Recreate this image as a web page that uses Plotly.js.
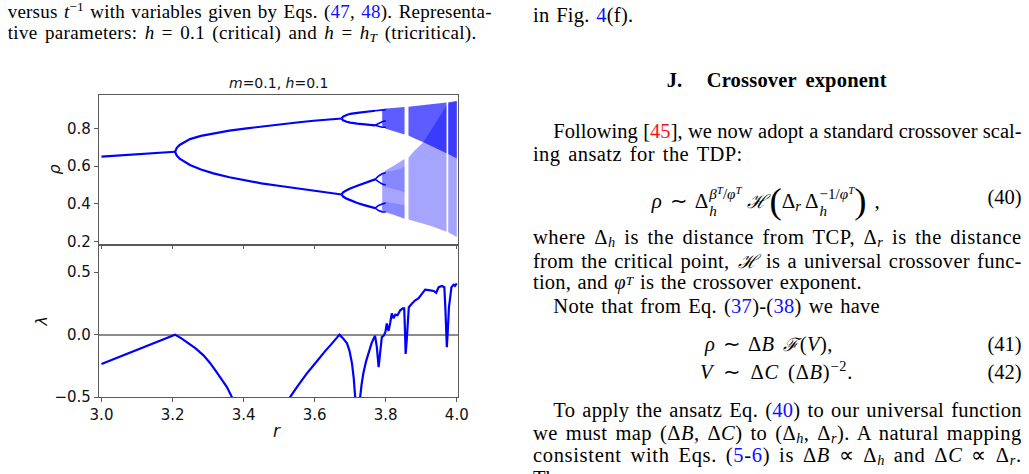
<!DOCTYPE html>
<html>
<head>
<meta charset="utf-8">
<script src="https://cdn.plot.ly/plotly-3.0.1.min.js"></script>
<style>
  html, body { margin:0; padding:0; background:#fff; }
  body { width:1029px; height:474px; position:relative; overflow:hidden; }
  #plot { position:absolute; left:0; top:0; width:1029px; height:474px; }
  .ln { position:absolute; white-space:nowrap; font-family:'Liberation Serif', serif; color:#000; z-index:5; }
  .body { font-size:20.5px; line-height:22px; }
  .cap { font-size:19px; line-height:20px; }
  .lk { color:#1010ff; }
  .ct { color:#ff1010; }
  sup, sub { font-size:0.7em; line-height:0; }
  sub { vertical-align:-0.2em; }
  .lowsup { font-size:0.65em; vertical-align:0.32em; }
  .ss { display:inline-flex; flex-direction:column; vertical-align:0.58em; font-size:0.72em; line-height:1.14; margin-left:1px; }
  .ss > sup, .ss > sub { font-size:1em; line-height:1.14; vertical-align:baseline; }
  .ss sup sup { font-size:0.72em; vertical-align:0.45em; }
  .big { font-size:1.75em; vertical-align:-0.14em; line-height:0; }
  .scr { font-family:'DejaVu Serif', serif; font-style:italic; line-height:0; font-size:0.9em; margin:0 1px; }
</style>
</head>
<body>
<div id="plot"></div>

<!-- left column caption -->
<div class="ln cap" data-x="7.7" data-w="484" data-cy="13"><span>versus <i>t</i><sup>−1</sup> with variables given by Eqs. (<span class="lk">47</span>, <span class="lk">48</span>). Representa-</span></div>
<div class="ln cap" data-x="7.7" data-w="469" data-cy="34"><span>tive parameters: <i>h</i> = 0.1 (critical) and <i>h</i> = <i>h</i><sub><i>T</i></sub> (tricritical).</span></div>

<!-- right column -->
<div class="ln body" data-x="533" data-w="100.3" data-cy="16"><span>in Fig. <span class="lk">4</span>(f).</span></div>
<div class="ln body" data-x="666.7" data-cy="81" data-nofit="1"><span style="font-weight:bold">J.</span></div>
<div class="ln body" data-x="706.7" data-w="180" data-cy="81"><span style="font-weight:bold">Crossover exponent</span></div>
<div class="ln body" data-x="553.3" data-w="468.4" data-cy="132"><span>Following [<span class="ct">45</span>], we now adopt a standard crossover scal-</span></div>
<div class="ln body" data-x="533" data-w="209.7" data-cy="155"><span>ing ansatz for the TDP:</span></div>

<div class="ln body" data-x="651.7" data-cy="198" data-nofit="1" style="font-size:21px"><span><i>ρ</i><span style="margin:0 7px 0 8px">∼</span>Δ<span class="ss"><sup><i>β</i><sup><i>T</i></sup>/<i>φ</i><sup><i>T</i></sup></sup><sub><i>h</i></sub></span><span class="scr" style="margin-left:5px">ℋ</span><span class="big" style="margin-left:2px">(</span>Δ<sub><i>r</i></sub><span style="margin-left:4px">Δ</span><span class="ss"><sup>−1/<i>φ</i><sup><i>T</i></sup></sup><sub><i>h</i></sub></span><span class="big">)</span><span style="margin-left:8px">,</span></span></div>
<div class="ln body" data-right="1021.7" data-cy="198"><span>(40)</span></div>

<div class="ln body" data-x="533" data-w="488.7" data-cy="238"><span>where Δ<sub><i>h</i></sub> is the distance from TCP, Δ<sub><i>r</i></sub> is the distance</span></div>
<div class="ln body" data-x="533" data-w="488.7" data-cy="261.7"><span>from the critical point, <span class="scr">ℋ</span> is a universal crossover func-</span></div>
<div class="ln body" data-x="533" data-w="328.7" data-cy="283.5"><span>tion, and <i>φ</i><sup class="lowsup"><i>T</i></sup> is the crossover exponent.</span></div>
<div class="ln body" data-x="553.3" data-w="326.7" data-cy="307"><span>Note that from Eq. (<span class="lk">37</span>)-(<span class="lk">38</span>) we have</span></div>

<div class="ln body" data-x="705" data-w="128" data-cy="345"><span><i>ρ</i> ∼ Δ<i>B</i> <span class="scr">ℱ</span>(<i>V</i>),</span></div>
<div class="ln body" data-right="1021.7" data-cy="345"><span>(41)</span></div>
<div class="ln body" data-x="700" data-w="153" data-cy="372.7"><span><i>V</i> ∼ Δ<i>C</i> (Δ<i>B</i>)<sup>−2</sup>.</span></div>
<div class="ln body" data-right="1021.7" data-cy="372.7"><span>(42)</span></div>

<div class="ln body" data-x="553.3" data-w="468.4" data-cy="411"><span>To apply the ansatz Eq. (<span class="lk">40</span>) to our universal function</span></div>
<div class="ln body" data-x="533" data-w="488.7" data-cy="434"><span>we must map (Δ<i>B</i>, Δ<i>C</i>) to (Δ<sub><i>h</i></sub>, Δ<sub><i>r</i></sub>). A natural mapping</span></div>
<div class="ln body" data-x="533" data-w="488.7" data-cy="456"><span>consistent with Eqs. (<span class="lk">5</span>-<span class="lk">6</span>) is Δ<i>B</i> ∝ Δ<sub><i>h</i></sub> and Δ<i>C</i> ∝ Δ<sub><i>r</i></sub>.</span></div>
<div class="ln body" data-x="533" data-cy="479" data-nofit="1"><span>The</span></div>

<script>
// ---------------- data ----------------
// period-1 branch
const rP1   = [3.000, 3.050, 3.100, 3.150, 3.207];
const rhoP1 = [0.650, 0.656, 0.662, 0.668, 0.676];
// period-2 branches
const rP2     = [3.207, 3.212, 3.220, 3.235, 3.249, 3.280, 3.315, 3.360, 3.409, 3.450, 3.503, 3.550, 3.597, 3.640, 3.676];
const rhoP2up = [0.676, 0.697, 0.712, 0.728, 0.743, 0.760, 0.774, 0.788, 0.800, 0.810, 0.821, 0.831, 0.840, 0.847, 0.852];
const rhoP2lo = [0.676, 0.655, 0.640, 0.622, 0.606, 0.582, 0.562, 0.541, 0.523, 0.509, 0.495, 0.482, 0.470, 0.460, 0.450];
// period-4 branches
const rP4     = [3.676, 3.680, 3.690, 3.700, 3.720, 3.737, 3.755, 3.770];
const rhoP4uu = [0.852, 0.862, 0.871, 0.877, 0.882, 0.886, 0.890, 0.893];
const rhoP4ul = [0.852, 0.842, 0.835, 0.830, 0.825, 0.821, 0.818, 0.816];
const rhoP4lu = [0.450, 0.461, 0.472, 0.482, 0.496, 0.508, 0.520, 0.530];
const rhoP4ll = [0.450, 0.439, 0.428, 0.419, 0.405, 0.395, 0.386, 0.378];
// period-8 branches (just before chaos)
const rP8     = [3.770, 3.780, 3.790, 3.800];
const rhoP8a  = [0.893, 0.895, 0.897, 0.899];
const rhoP8b  = [0.816, 0.826, 0.835, 0.840];
const rhoP8c  = [0.816, 0.810, 0.806, 0.806];
const rhoP8d  = [0.530, 0.548, 0.560, 0.565];
const rhoP8e  = [0.530, 0.515, 0.505, 0.500];
const rhoP8f  = [0.378, 0.392, 0.400, 0.405];
const rhoP8g  = [0.378, 0.365, 0.358, 0.357];
// chaotic bands (null = periodic window)
const rChaos   = [3.790, 3.800, 3.820, 3.840, 3.853, null, 3.864, 3.880, 3.906, 3.930, 3.950, 3.971, null, 3.976, 4.000];
const upperTop = [0.898, 0.905, 0.908, 0.911, 0.913, null, 0.914, 0.918, 0.923, 0.928, 0.932, 0.937, null, 0.938, 0.945];
const upperBot = [0.812, 0.798, 0.785, 0.775, 0.768, null, 0.762, 0.748, 0.727, 0.705, 0.688, 0.668, null, 0.664, 0.640];
const lowerTop = [0.560, 0.578, 0.600, 0.622, 0.638, null, 0.645, 0.680, 0.727, 0.800, 0.860, 0.920, null, 0.930, 0.945];
const lowerBot = [0.365, 0.357, 0.345, 0.332, 0.322, null, 0.318, 0.308, 0.295, 0.282, 0.268, 0.253, null, 0.250, 0.225];
// denser cores of the lower band just after the onset of chaos
const rCore    = [3.790, 3.800, 3.820, 3.840, 3.853];
const coreTop  = [0.565, 0.570, 0.575, 0.585, 0.600];
const coreBot  = [0.495, 0.490, 0.480, 0.470, 0.460];
const core2Top = [0.410, 0.410, 0.405, 0.400, 0.395];
const core2Bot = [0.360, 0.352, 0.342, 0.330, 0.322];

// Lyapunov exponent
const rLam = [3.000,3.040,3.080,3.120,3.146,3.180,3.207,3.225,3.240,3.265,3.287,3.305,3.324,3.340,3.353,3.367,3.380,3.449,3.520,3.531,3.550,3.565,3.578,3.597,3.615,3.630,3.644,3.656,3.665,3.670,3.680,3.691,3.698,3.705,3.710,3.714,3.721,3.728,3.732,3.737,3.745,3.752,3.760,3.766,3.770,3.775,3.778,3.780,3.783,3.785,3.789,3.794,3.799,3.803,3.806,3.808,3.813,3.817,3.822,3.827,3.833,3.841,3.848,3.852,3.854,3.856,3.859,3.861,3.865,3.874,3.883,3.892,3.902,3.911,3.921,3.935,3.942,3.949,3.958,3.965,3.968,3.970,3.972,3.975,3.978,3.985,3.991,3.995,4.000];
const lam  = [-0.235,-0.190,-0.145,-0.100,-0.067,-0.032,0.000,-0.030,-0.060,-0.110,-0.166,-0.225,-0.300,-0.365,-0.420,-0.500,-0.600,-1.200,-0.600,-0.500,-0.420,-0.360,-0.310,-0.245,-0.180,-0.130,-0.086,-0.050,-0.020,0.000,-0.030,-0.070,-0.130,-0.230,-0.350,-0.500,-1.500,-0.500,-0.400,-0.310,-0.210,-0.140,-0.070,-0.030,-0.010,-0.100,-0.200,-0.260,-0.180,-0.130,-0.020,-0.010,0.020,0.090,0.050,0.030,0.100,0.170,0.130,0.160,0.155,0.195,0.210,0.210,0.050,-0.155,-0.050,0.060,0.220,0.250,0.275,0.290,0.330,0.360,0.356,0.350,0.335,0.380,0.390,0.380,0.200,0.000,-0.100,0.050,0.220,0.380,0.400,0.390,0.410];

const xTicks = [3.0, 3.2, 3.4, 3.6, 3.8, 4.0];
const xTickText = ['3.0','3.2','3.4','3.6','3.8','4.0'];
const rhoTicks = [0.2, 0.4, 0.6, 0.8];
const rhoTickText = ['0.2','0.4','0.6','0.8'];
const lamTicks = [-0.5, 0.0, 0.5];
const lamTickText = ['−0.5','0.0','0.5'];

// ---------------- build figure ----------------
const BLUE = '#0000ff';
const W = 1029, H = 474;
function band(rs, top, bot) {
  const xs = [], ys = [];
  let seg = [];
  const flush = () => {
    if (!seg.length) return;
    seg.forEach(i => { xs.push(rs[i]); ys.push(top[i]); });
    seg.slice().reverse().forEach(i => { xs.push(rs[i]); ys.push(bot[i]); });
    xs.push(null); ys.push(null);
    seg = [];
  };
  rs.forEach((r, i) => { if (r === null) flush(); else seg.push(i); });
  flush();
  return {xs, ys};
}
function fillTrace(b, color) {
  return {x:b.xs, y:b.ys, type:'scatter', mode:'lines', fill:'toself', fillcolor:color,
          line:{width:0, color:'rgba(0,0,0,0)'}, xaxis:'x', yaxis:'y', hoverinfo:'skip', showlegend:false};
}
function ln(x, y, w) {
  return {x, y, type:'scatter', mode:'lines', xaxis:'x', yaxis:'y',
          line:{color:BLUE, width:w || 2.2}, hoverinfo:'skip', showlegend:false};
}
const traces = [
  fillTrace(band(rChaos, lowerTop, lowerBot), 'rgba(40,40,255,0.42)'),
  fillTrace(band(rCore, coreTop, coreBot), 'rgba(0,0,255,0.18)'),
  fillTrace(band(rCore, core2Top, core2Bot), 'rgba(0,0,255,0.18)'),
  fillTrace(band(rChaos, upperTop, upperBot), 'rgba(0,0,255,0.64)'),
  ln(rP1, rhoP1), ln(rP2, rhoP2up), ln(rP2, rhoP2lo),
  ln(rP4, rhoP4uu), ln(rP4, rhoP4ul), ln(rP4, rhoP4lu), ln(rP4, rhoP4ll),
  ln(rP8, rhoP8a, 1.6), ln(rP8, rhoP8b, 1.6), ln(rP8, rhoP8c, 1.6), ln(rP8, rhoP8d, 1.6),
  ln(rP8, rhoP8e, 1.6), ln(rP8, rhoP8f, 1.6), ln(rP8, rhoP8g, 1.6),
  {x:rLam, y:lam, type:'scatter', mode:'lines', xaxis:'x2', yaxis:'y2',
   line:{color:BLUE, width:2.2}, hoverinfo:'skip', showlegend:false}
];

const xDom = [99/W, 457.5/W];
const axisCommon = {
  showgrid:false, zeroline:false, showline:true, mirror:true, linecolor:'#5a5a5a', linewidth:1.1,
  ticks:'outside', ticklen:4, tickwidth:1, tickcolor:'#5a5a5a',
  tickfont:{family:'DejaVu Sans', size:15, color:'#111'}
};
const layout = {
  width:W, height:H, margin:{l:0, r:0, t:0, b:0},
  paper_bgcolor:'#fff', plot_bgcolor:'#fff',
  showlegend:false,
  xaxis: Object.assign({}, axisCommon, {domain:xDom, range:[2.993, 4.002], anchor:'y',
          tickvals:xTicks, ticktext:xTickText, showticklabels:false, matches:'x2'}),
  yaxis: Object.assign({}, axisCommon, {domain:[1-244/H, 1-94.7/H], range:[0.188, 0.978], anchor:'x',
          tickvals:rhoTicks, ticktext:rhoTickText}),
  xaxis2: Object.assign({}, axisCommon, {domain:xDom, range:[2.993, 4.002], anchor:'y2',
          tickvals:xTicks, ticktext:xTickText}),
  yaxis2: Object.assign({}, axisCommon, {domain:[1-397.3/H, 1-246/H], range:[-0.502, 0.71], anchor:'x2',
          tickvals:lamTicks, ticktext:lamTickText,
          zeroline:true, zerolinecolor:'#8c8c8c', zerolinewidth:1.8}),
  annotations:[
    {text:'<i>m</i>=0.1, <i>h</i>=0.1', xref:'paper', yref:'paper', x:278.2/W, y:1-83/H,
     xanchor:'center', yanchor:'middle', showarrow:false, font:{family:'DejaVu Sans', size:14, color:'#111'}},
    {text:'<i>ρ</i>', xref:'paper', yref:'paper', x:54/W, y:1-169.4/H, textangle:-90,
     xanchor:'center', yanchor:'middle', showarrow:false, font:{family:'DejaVu Sans', size:16, color:'#111'}},
    {text:'<i>λ</i>', xref:'paper', yref:'paper', x:41/W, y:1-321.5/H, textangle:-90,
     xanchor:'center', yanchor:'middle', showarrow:false, font:{family:'DejaVu Sans', size:16, color:'#111'}},
    {text:'<i>r</i>', xref:'paper', yref:'paper', x:277/W, y:1-430.5/H,
     xanchor:'center', yanchor:'middle', showarrow:false, font:{family:'DejaVu Sans', size:17, color:'#111'}}
  ]
};
Plotly.newPlot('plot', traces, layout, {staticPlot:true, displayModeBar:false});

// ---------------- text line placement ----------------
function placeLines() {
  document.querySelectorAll('.ln').forEach(el => {
    const lh = parseFloat(getComputedStyle(el).lineHeight);
    const cy = parseFloat(el.dataset.cy);
    el.style.top = (cy - lh * 0.55) + 'px';
    const inner = el.firstElementChild;
    inner.style.wordSpacing = '0px';
    inner.style.letterSpacing = '0px';
    if (el.dataset.right) {
      el.style.left = (parseFloat(el.dataset.right) - inner.getBoundingClientRect().width) + 'px';
      return;
    }
    el.style.left = el.dataset.x + 'px';
    if (el.dataset.w && !el.dataset.nofit) {
      const target = parseFloat(el.dataset.w);
      const nat = inner.getBoundingClientRect().width;
      const txt = inner.textContent;
      const nsp = (txt.match(/ /g) || []).length;
      const nch = txt.length;
      let d = target - nat;
      if (d > 0 && nch > 0) {
        const ls = Math.min(0.9, (nsp > 0 ? 0.5 : 1.0) * d / nch);
        inner.style.letterSpacing = ls + 'px';
        const nat2 = inner.getBoundingClientRect().width;
        d = target - nat2;
      }
      if (nsp > 0) inner.style.wordSpacing = (d / nsp) + 'px';
    }
  });
}
placeLines();
if (document.fonts && document.fonts.ready) document.fonts.ready.then(placeLines);
</script>
</body>
</html>
